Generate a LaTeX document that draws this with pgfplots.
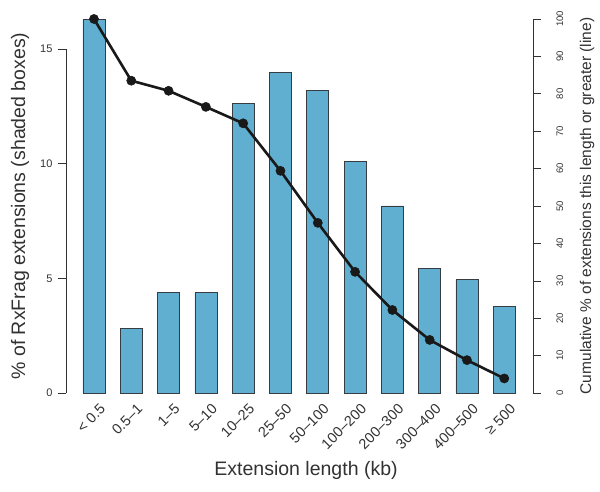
\documentclass[border=0pt]{standalone}
\usepackage{fontspec}
\setmainfont{Liberation Sans}
\usepackage{pgfplots}
\pgfplotsset{compat=1.18}

\definecolor{barblue}{RGB}{96,175,208}
\definecolor{baredge}{RGB}{55,60,65}
\definecolor{axisgray}{RGB}{50,50,50}

\pgfplotsset{
  common/.style={
    scale only axis,
    width=467pt, height=404pt,
    xmin=-0.75, xmax=11.77,
    tick align=outside,
    major tick length=8pt,
    axis line style={draw=none},
    every tick/.style={axisgray, line width=0.6pt},
    /pgf/number format/assume math mode=true,
    clip=false,
  }
}

\begin{document}
\begin{tikzpicture}
\begin{axis}[common,
    ymin=-0.654, ymax=16.965,
    axis x line*=bottom,
    axis y line*=left,
    xtick={0,...,11},
    xticklabels={< 0.5,0.5–1,1–5,5–10,10–25,25–50,50–100,100–200,200–300,300–400,400–500,≥ 500},
    major x tick style={draw=none},
    xticklabel style={xshift=5pt, yshift=18pt, rotate=45, anchor=north east, font=\fontsize{14.5}{15}\selectfont, text=axisgray},
    ytick={0,5,10,15},
    yticklabel style={xshift=-2pt, font=\fontsize{11}{12}\selectfont, text=axisgray},
    xlabel={Extension length (kb)},
    xlabel style={at={(rel axis cs:0.514,0)}, anchor=center, yshift=-62pt, font=\fontsize{19.5}{20}\selectfont, text=axisgray},
    ylabel={\% of RxFrag extensions (shaded boxes)},
    ylabel style={at={([xshift=-46pt]rel axis cs:0,0.5)}, anchor=center, font=\fontsize{19.5}{20}\selectfont, text=axisgray},
  ]
  \addplot[ybar, bar width=0.59, fill=barblue, draw=baredge, line width=0.7pt] coordinates {
    (0,16.29) (1,2.82) (2,4.37) (3,4.37) (4,12.62) (5,13.99)
    (6,13.21) (7,10.09) (8,8.16) (9,5.44) (10,4.96) (11,3.79)
  };
  \draw[axisgray, line width=0.6pt] (axis cs:-0.75,0) -- (axis cs:-0.75,15);
  \coordinate (bl) at (rel axis cs:0,0);
  \coordinate (tr) at (rel axis cs:1,1);
\end{axis}
\begin{axis}[common,
    ymin=-4, ymax=104,
    axis x line=none,
    axis y line*=right,
    ytick={0,10,...,100},
    yticklabel style={rotate=90, anchor=north, yshift=-12pt, font=\fontsize{9.5}{10}\selectfont, text=axisgray},
    ylabel={Cumulative \% of extensions this length or greater (line)},
    ylabel style={at={([xshift=54pt]rel axis cs:1,0.5)}, anchor=center, rotate=0, font=\fontsize{15.5}{16}\selectfont, text=axisgray},
  ]
  \addplot[color=black!90, line width=2.6pt, mark=*, mark size=4.6pt, mark options={fill=black!90, line width=0.5pt}] coordinates {
    (0,100) (1,83.5) (2,80.8) (3,76.5) (4,72.1) (5,59.4)
    (6,45.5) (7,32.4) (8,22.2) (9,14.2) (10,8.8) (11,3.9)
  };
  \draw[axisgray, line width=0.6pt] (axis cs:11.77,0) -- (axis cs:11.77,100);
\end{axis}
\pgfresetboundingbox
\path[use as bounding box] ([shift={(-66pt,-83pt)}]bl) rectangle ([shift={(67pt,4pt)}]tr);
\end{tikzpicture}
\end{document}
